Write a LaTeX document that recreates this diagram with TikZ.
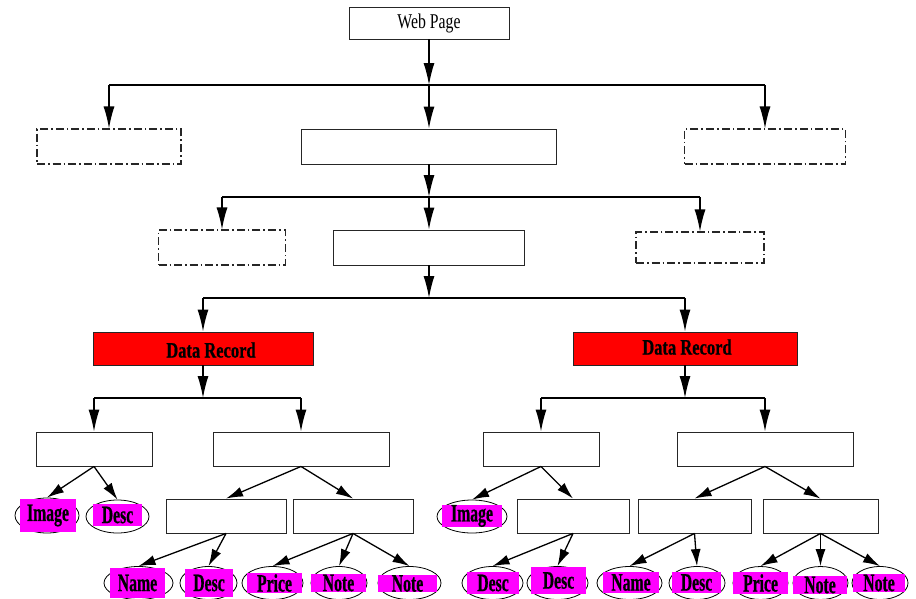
\documentclass[tikz,border=0pt]{standalone}
\usepackage{fontspec}
\setmainfont{Liberation Serif}[FakeStretch=0.75]
\newfontfamily\labfont{Liberation Serif}[FakeStretch=0.63,BoldFeatures={FakeBold=0.6}]
\newfontfamily\recfont{Liberation Serif}[FakeStretch=0.75,BoldFeatures={FakeBold=0.6}]
\usetikzlibrary{arrows.meta,shapes.geometric}
\definecolor{recred}{RGB}{255,0,0}
\definecolor{labmag}{RGB}{255,0,255}
\tikzset{
  box/.style={draw=black!85, line width=0.9pt, inner sep=0pt, fill=white},
  dbox/.style={box, line width=1.1pt, dash pattern=on 8pt off 3pt on 1.6pt off 3pt},
  recbox/.style={box, fill=recred},
  rectext/.style={font=\recfont\fontsize{22}{26}\selectfont\bfseries, inner sep=0pt},
  ell/.style={draw=black, line width=0.8pt, ellipse, inner sep=0pt, fill=white},
  mag/.style={fill=labmag, inner sep=0pt, font=\labfont\fontsize{25}{28}\selectfont\bfseries, text=black},
  conn/.style={draw=black, line width=1.3pt},
  varr/.style={conn, -{Latex[length=22pt,width=11pt]}},
  darr/.style={conn, -{Latex[length=17pt,width=10pt]}},
}
\begin{document}
\begin{tikzpicture}[x=1pt,y=-1pt]
\useasboundingbox (0,0) rectangle (916,598);
% top levels
\node[box, minimum width=160pt, minimum height=32pt, font=\fontsize{21}{25}\selectfont] (web) at (429,23) {Web Page};
\node[dbox, minimum width=144pt, minimum height=35pt] (l1a) at (109,146.5) {};
\node[box, minimum width=255pt, minimum height=35pt] (l1b) at (429,146.5) {};
\node[dbox, minimum width=161pt, minimum height=35pt] (l1c) at (765,146.5) {};
\node[dbox, minimum width=127pt, minimum height=35pt] (l2a) at (222,247.5) {};
\node[box, minimum width=191pt, minimum height=35pt] (l2b) at (429,247.5) {};
\node[dbox, minimum width=128pt, minimum height=31pt] (l2c) at (700,247.5) {};
% data records
\node[recbox, minimum width=220pt, minimum height=33pt] (drl) at (203,348.5) {};
\node[recbox, minimum width=224pt, minimum height=33pt] (drr) at (685,348.5) {};
\node[rectext] (drlt) at (211,350) {Data Record};
\node[rectext] (drrt) at (687,347) {Data Record};
% group boxes
\node[box, minimum width=116pt, minimum height=34pt] (A) at (94,449) {};
\node[box, minimum width=176pt, minimum height=34pt] (B) at (301,449) {};
\node[box, minimum width=120pt, minimum height=34pt] (C) at (226,516) {};
\node[box, minimum width=120pt, minimum height=34pt] (D) at (353,516) {};
\node[box, minimum width=116pt, minimum height=34pt] (E) at (541,449) {};
\node[box, minimum width=176pt, minimum height=34pt] (F) at (765,449) {};
\node[box, minimum width=112pt, minimum height=34pt] (G) at (573,516) {};
\node[box, minimum width=113pt, minimum height=34pt] (H) at (694.5,516) {};
\node[box, minimum width=115pt, minimum height=34pt] (I) at (820.5,516) {};
% ellipses
\node[ell, minimum width=64pt, minimum height=35pt] (e1) at (47,515.5) {};
\node[ell, minimum width=63pt, minimum height=33pt] (e2) at (117.5,516.5) {};
\node[ell, minimum width=69pt, minimum height=33pt] (e3) at (138.5,583) {};
\node[ell, minimum width=57pt, minimum height=33pt] (e4) at (208.5,583) {};
\node[ell, minimum width=61pt, minimum height=33pt] (e5) at (272.5,583) {};
\node[ell, minimum width=56pt, minimum height=33pt] (e6) at (339,583) {};
\node[ell, minimum width=63pt, minimum height=33pt] (e7) at (409.5,583) {};
\node[ell, minimum width=70pt, minimum height=33pt] (e8) at (472,516.5) {};
\node[ell, minimum width=61pt, minimum height=33pt] (e9) at (492.5,583) {};
\node[ell, minimum width=61pt, minimum height=33pt] (e10) at (557.5,583) {};
\node[ell, minimum width=65pt, minimum height=33pt] (e11) at (629.5,583) {};
\node[ell, minimum width=56pt, minimum height=33pt] (e12) at (697,583) {};
\node[ell, minimum width=55pt, minimum height=33pt] (e13) at (760.5,583) {};
\node[ell, minimum width=55pt, minimum height=33pt] (e14) at (820.5,583) {};
\node[ell, minimum width=56pt, minimum height=33pt] (e15) at (880,583) {};
% magenta labels
\node[mag, minimum width=56pt, minimum height=33pt] (m1) at (48,515.5) {Image};
\node[mag, minimum width=49pt, minimum height=22pt] (m2) at (117.5,515) {Desc};
\node[mag, minimum width=55pt, minimum height=30pt] (m3) at (137.5,583) {Name};
\node[mag, minimum width=48pt, minimum height=28pt] (m4) at (209,583) {Desc};
\node[mag, minimum width=55pt, minimum height=20pt] (m5) at (274.5,583) {Price};
\node[mag, minimum width=55pt, minimum height=18pt] (m6) at (338.5,583) {Note};
\node[mag, minimum width=59pt, minimum height=17pt] (m7) at (407.5,583.5) {Note};
\node[mag, minimum width=60pt, minimum height=22pt] (m8) at (472,516) {Image};
\node[mag, minimum width=52pt, minimum height=22pt] (m9) at (493,583) {Desc};
\node[mag, minimum width=55pt, minimum height=27pt] (m10) at (558.5,580.5) {Desc};
\node[mag, minimum width=56pt, minimum height=21pt] (m11) at (631,582.5) {Name};
\node[mag, minimum width=49pt, minimum height=21pt] (m12) at (696.5,582.5) {Desc};
\node[mag, minimum width=55pt, minimum height=22pt] (m13) at (760.5,583) {Price};
\node[mag, minimum width=54pt, minimum height=18pt] (m14) at (820,585) {Note};
\node[mag, minimum width=52pt, minimum height=18pt] (m15) at (879,583) {Note};
% junction coordinates
\coordinate (j1) at (429,85);
\coordinate (j1l) at (109,85);
\coordinate (j1r) at (765,85);
\coordinate (j2) at (429,197);
\coordinate (j2l) at (222,197);
\coordinate (j2r) at (700,197);
\coordinate (j3) at (429,298);
\coordinate (j3l) at (203,298);
\coordinate (j3r) at (685,298);
\coordinate (j4) at (203,398);
\coordinate (j4l) at (94,398);
\coordinate (j4r) at (301,398);
\coordinate (j5) at (685,398);
\coordinate (j5l) at (541,398);
\coordinate (j5r) at (765,398);
% vertical connectors
\draw[varr] (web.south) -- (j1);
\draw[conn] (j1l) -- (j1r);
\draw[varr] (j1l) -- (l1a.north);
\draw[varr] (j1) -- (l1b.north);
\draw[varr] (j1r) -- (l1c.north);
\draw[varr] (l1b.south) -- (j2);
\draw[conn] (j2l) -- (j2r);
\draw[varr] (j2l) -- (l2a.north);
\draw[varr] (j2) -- (l2b.north);
\draw[varr] (j2r) -- (l2c.north);
\draw[varr] (l2b.south) -- (j3);
\draw[conn] (j3l) -- (j3r);
\draw[varr] (j3l) -- (drl.north);
\draw[varr] (j3r) -- (drr.north);
\draw[varr] (drl.south) -- (j4);
\draw[conn] (j4l) -- (j4r);
\draw[varr] (j4l) -- (A.north);
\draw[varr] (j4r) -- (B.north);
\draw[varr] (drr.south) -- (j5);
\draw[conn] (j5l) -- (j5r);
\draw[varr] (j5l) -- (E.north);
\draw[varr] (j5r) -- (F.north);
% diagonal connectors
\draw[darr] (A.south) -- (e1.north);
\draw[darr] (A.south) -- (e2.north);
\draw[darr] (B.south) -- (C.north);
\draw[darr] (B.south) -- (D.north);
\draw[darr] (C.south) -- (e3.north);
\draw[darr] (C.south) -- (e4.north);
\draw[darr] (D.south) -- (e5.north);
\draw[darr] (D.south) -- (e6.north);
\draw[darr] (D.south) -- (e7.north);
\draw[darr] (E.south) -- (e8.north);
\draw[darr] (E.south) -- (G.north);
\draw[darr] (F.south) -- (H.north);
\draw[darr] (F.south) -- (I.north);
\draw[darr] (G.south) -- (e9.north);
\draw[darr] (G.south) -- (e10.north);
\draw[darr] (H.south) -- (e11.north);
\draw[darr] (H.south) -- (e12.north);
\draw[darr] (I.south) -- (e13.north);
\draw[darr] (I.south) -- (e14.north);
\draw[darr] (I.south) -- (e15.north);
\end{tikzpicture}
\end{document}
